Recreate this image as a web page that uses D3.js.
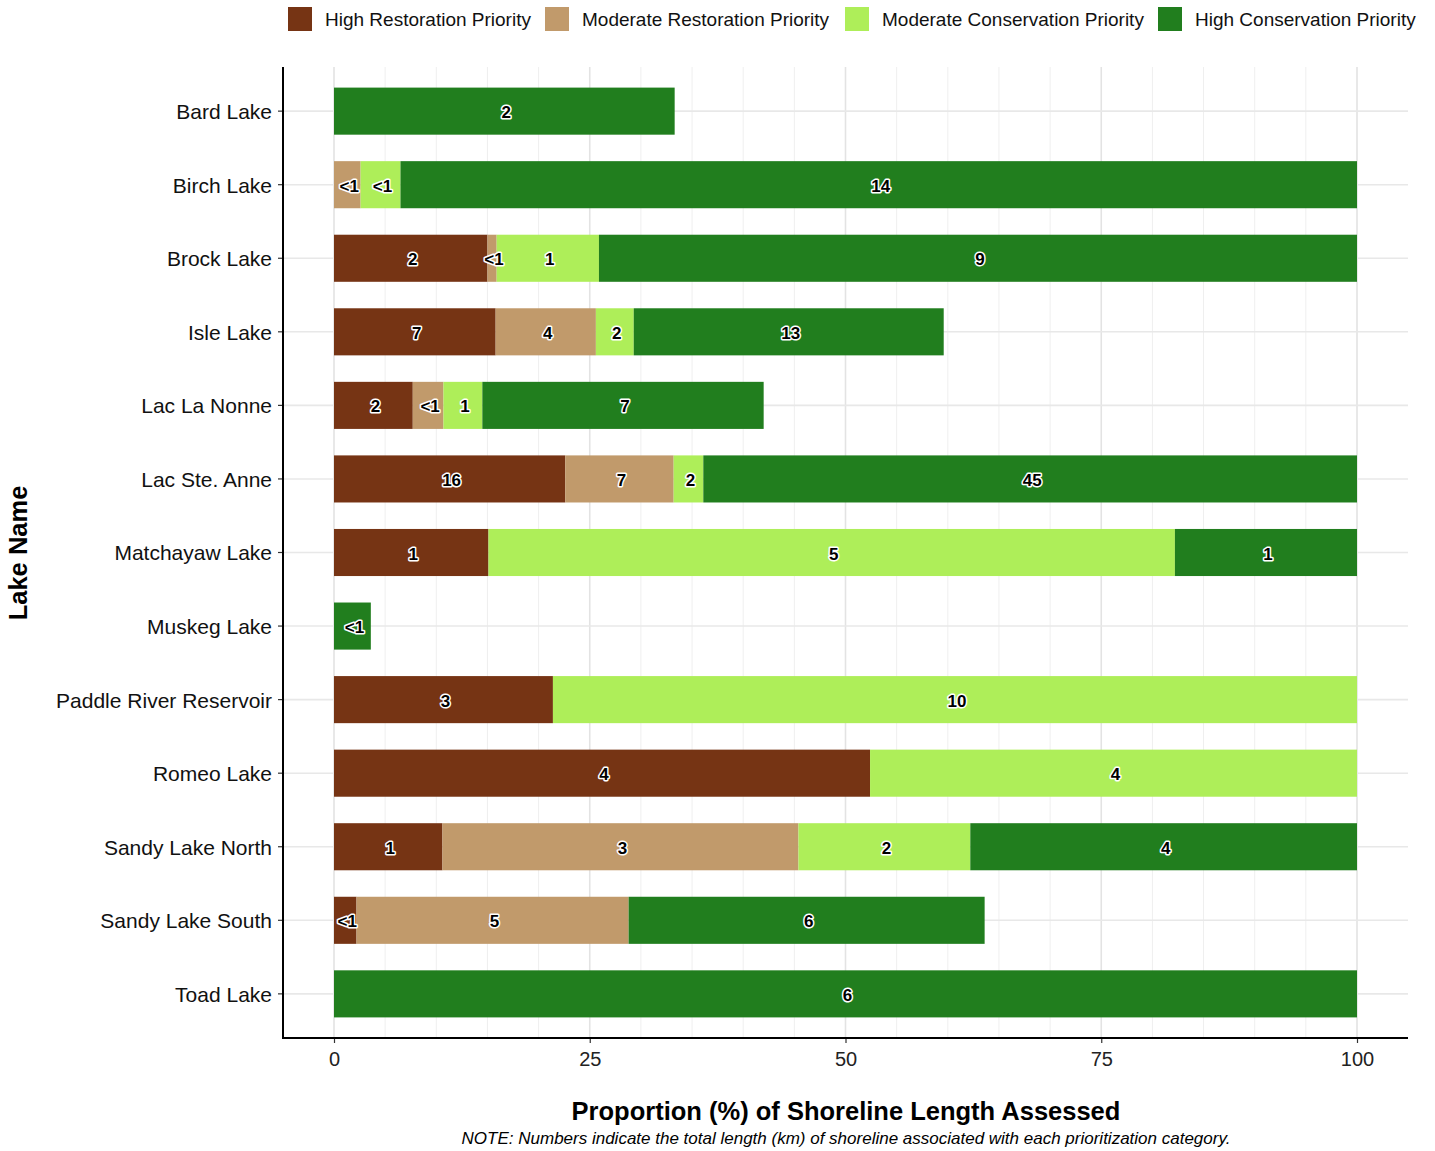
<!DOCTYPE html>
<html>
<head>
<meta charset="utf-8">
<script src="https://cdn.jsdelivr.net/npm/d3@7"></script>
<style>
  body { margin: 0; background: #fff; }
  text { font-family: "Liberation Sans", Arial, Helvetica, sans-serif; }
</style>
</head>
<body>
<div id="chart"></div>
<script>
var lakes = ['Bard Lake', 'Birch Lake', 'Brock Lake', 'Isle Lake', 'Lac La Nonne', 'Lac Ste. Anne',
  'Matchayaw Lake', 'Muskeg Lake', 'Paddle River Reservoir', 'Romeo Lake', 'Sandy Lake North',
  'Sandy Lake South', 'Toad Lake'];

var categories = ['High Restoration Priority', 'Moderate Restoration Priority',
  'Moderate Conservation Priority', 'High Conservation Priority'];
var colors = ['#763414', '#C19A6B', '#AEEE59', '#217E1E'];

// percent of assessed shoreline per lake
var high_restoration = [0, 0, 15.0, 15.8, 7.7, 22.6, 15.1, 0, 21.4, 52.4, 10.6, 2.2, 0];
var moderate_restoration = [0, 2.6, 0.9, 9.8, 3.0, 10.6, 0, 0, 0, 0, 34.8, 26.6, 0];
var moderate_conservation = [0, 3.9, 10.0, 3.7, 3.8, 2.9, 67.1, 0, 78.6, 47.6, 16.8, 0, 0];
var high_conservation = [33.3, 93.5, 74.1, 30.3, 27.5, 63.9, 17.8, 3.6, 0, 0, 37.8, 34.8, 100];

// km labels
var high_restoration_km = [null, null, '2', '7', '2', '16', '1', null, '3', '4', '1', '<1', null];
var moderate_restoration_km = [null, '<1', '<1', '4', '<1', '7', null, null, null, null, '3', '5', null];
var moderate_conservation_km = [null, '<1', '1', '2', '1', '2', '5', null, '10', '4', '2', null, null];
var high_conservation_km = ['2', '14', '9', '13', '7', '45', '1', '<1', null, null, '4', '6', '6'];

var x_ticks = [0, 25, 50, 75, 100];
var x_minor = d3.range(0, 101, 5);

var width = 1435, height = 1151;
var plot = {left: 283, right: 1408, top: 67, bottom: 1038};

var svg = d3.select('#chart').append('svg')
  .attr('width', width)
  .attr('height', height);

var x_scale = d3.scaleLinear()
  .domain([0, 100])
  .range([334, 1357]);

var y_scale = d3.scaleBand()
  .domain(lakes)
  .range([plot.top, plot.bottom])
  .paddingInner(0.36)
  .paddingOuter(0.28);

// grid
svg.append('g').selectAll('line.minor')
  .data(x_minor)
  .enter().append('line')
    .attr('x1', function(d){ return x_scale(d); })
    .attr('x2', function(d){ return x_scale(d); })
    .attr('y1', plot.top)
    .attr('y2', plot.bottom)
    .attr('stroke', function(d){ return x_ticks.indexOf(d) >= 0 ? '#e3e3e3' : '#efefef'; })
    .attr('stroke-width', function(d){ return x_ticks.indexOf(d) >= 0 ? 1.6 : 1; });

svg.append('g').selectAll('line.hgrid')
  .data(lakes)
  .enter().append('line')
    .attr('x1', plot.left)
    .attr('x2', plot.right)
    .attr('y1', function(d){ return y_scale(d) + y_scale.bandwidth() / 2; })
    .attr('y2', function(d){ return y_scale(d) + y_scale.bandwidth() / 2; })
    .attr('stroke', '#e8e8e8')
    .attr('stroke-width', 1.6);

// stack
var series_values = [high_restoration, moderate_restoration, moderate_conservation, high_conservation];
var series_labels = [high_restoration_km, moderate_restoration_km, moderate_conservation_km, high_conservation_km];

var rows = lakes.map(function(lake, i){
  var row = {lake: lake};
  categories.forEach(function(c, j){ row[c] = series_values[j][i]; });
  return row;
});
var stacked = d3.stack().keys(categories)(rows);

var layers = svg.append('g').selectAll('g.layer')
  .data(stacked)
  .enter().append('g')
    .attr('fill', function(d, j){ return colors[j]; });

layers.selectAll('rect')
  .data(function(d){ return d.filter(function(s){ return s[1] - s[0] > 0; }); })
  .enter().append('rect')
    .attr('x', function(d){ return x_scale(d[0]); })
    .attr('width', function(d){ return x_scale(d[1]) - x_scale(d[0]); })
    .attr('y', function(d){ return y_scale(d.data.lake); })
    .attr('height', y_scale.bandwidth());

// labels
var label_data = [];
stacked.forEach(function(layer, j){
  layer.forEach(function(s, i){
    var lbl = series_labels[j][i];
    if (lbl != null) {
      label_data.push({x: (s[0] + s[1]) / 2, lake: lakes[i], text: lbl});
    }
  });
});

svg.append('g').selectAll('text')
  .data(label_data)
  .enter().append('text')
    .attr('x', function(d){ return x_scale(d.x) + 2; })
    .attr('y', function(d){ return y_scale(d.lake) + y_scale.bandwidth() / 2 + 1; })
    .attr('dy', '0.36em')
    .attr('text-anchor', 'middle')
    .style('font-size', '17px')
    .style('font-weight', 'bold')
    .style('paint-order', 'stroke')
    .attr('stroke', '#fff')
    .attr('stroke-width', 3)
    .attr('stroke-linejoin', 'round')
    .attr('fill', '#000')
    .text(function(d){ return d.text; });

// axes
var x_axis = d3.axisBottom(x_scale).tickValues(x_ticks).tickSize(5).tickPadding(9);
var gx = svg.append('g')
  .attr('transform', 'translate(0,' + plot.bottom + ')')
  .call(x_axis);
gx.select('.domain').remove();
gx.selectAll('line').attr('stroke', '#333').attr('stroke-width', 1.2);
gx.selectAll('text').style('font-size', '20px').attr('fill', '#222')
  .style('font-family', '"Liberation Sans", Arial, sans-serif');

var y_axis = d3.axisLeft(y_scale).tickSize(5).tickPadding(6);
var gy = svg.append('g')
  .attr('transform', 'translate(' + plot.left + ',0)')
  .call(y_axis);
gy.select('.domain').remove();
gy.selectAll('line').attr('stroke', '#333').attr('stroke-width', 1.2);
gy.selectAll('text').style('font-size', '21px').attr('fill', '#111')
  .attr('dy', '0.38em')
  .style('font-family', '"Liberation Sans", Arial, sans-serif');

svg.append('line')
  .attr('x1', plot.left).attr('x2', plot.left)
  .attr('y1', plot.top).attr('y2', plot.bottom + 1)
  .attr('stroke', '#000').attr('stroke-width', 2);
svg.append('line')
  .attr('x1', plot.left - 1).attr('x2', plot.right)
  .attr('y1', plot.bottom).attr('y2', plot.bottom)
  .attr('stroke', '#000').attr('stroke-width', 2);

// titles
svg.append('text')
  .attr('x', 846).attr('y', 1120)
  .attr('text-anchor', 'middle')
  .style('font-size', '25.5px').style('font-weight', 'bold')
  .text('Proportion (%) of Shoreline Length Assessed');

svg.append('text')
  .attr('x', 846).attr('y', 1144)
  .attr('text-anchor', 'middle')
  .style('font-size', '17px').style('font-style', 'italic')
  .text('NOTE: Numbers indicate the total length (km) of shoreline associated with each prioritization category.');

svg.append('text')
  .attr('transform', 'translate(27,553)rotate(-90)')
  .attr('text-anchor', 'middle')
  .style('font-size', '25.5px').style('font-weight', 'bold')
  .text('Lake Name');

// legend
var legend_x = [288, 545, 845, 1158];
var legend = svg.append('g').selectAll('g')
  .data(categories)
  .enter().append('g')
    .attr('transform', function(d, j){ return 'translate(' + legend_x[j] + ',7)'; });
legend.append('rect')
  .attr('width', 24).attr('height', 24)
  .attr('fill', function(d, j){ return colors[j]; });
legend.append('text')
  .attr('x', 37).attr('y', 12).attr('dy', '0.36em')
  .style('font-size', '19px').attr('fill', '#111')
  .text(function(d){ return d; });
</script>
</body>
</html>
